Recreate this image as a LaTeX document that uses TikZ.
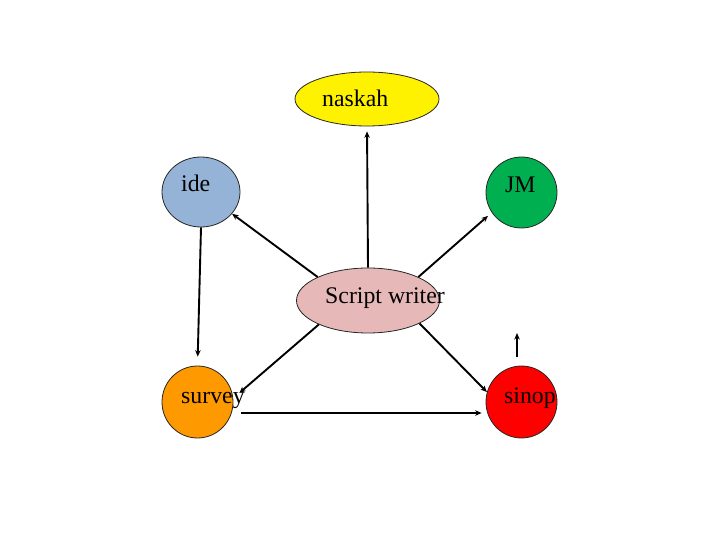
\documentclass[tikz,border=0pt]{standalone}
\usepackage{fontspec}
\setmainfont{Liberation Serif}
\usetikzlibrary{positioning, shapes, arrows.meta}
\definecolor{bleuide}{RGB}{149,179,215}
\definecolor{vertjm}{RGB}{0,176,80}
\definecolor{roseecrit}{RGB}{230,185,184}
\definecolor{orangesurvey}{RGB}{255,153,0}
\tikzstyle{forme}=[ellipse, draw=black!85, line width=0.8pt, inner sep=0pt]
\tikzstyle{texte}=[font=\fontsize{23.8}{28}\selectfont, inner sep=0pt, anchor=base west]
\tikzstyle{fleche}=[line width=1.9pt, -{Stealth[length=6.5pt,width=5.5pt]}]

\begin{document}
\begin{tikzpicture}[x=1pt, y=-1pt]
        \useasboundingbox (0,0) rectangle (720,540);

        % Les formes
        \node[forme, fill=yellow, minimum width=144pt, minimum height=54pt] (naskah) at (367,99) {};
        \node[forme, fill=bleuide, minimum width=78pt, minimum height=70pt] (ide) at (201,192) {};
        \node[forme, fill=vertjm, minimum width=71pt, minimum height=71pt] (jm) at (521.5,192.5) {};
        \node[forme, fill=roseecrit, minimum width=143pt, minimum height=65pt] (writer) at (368,300.5) {};
        \node[forme, fill=orangesurvey, minimum width=71pt, minimum height=72pt] (survey) at (197.5,402) {};
        \node[forme, fill=red, minimum width=71pt, minimum height=72pt] (sinop) at (521.5,402) {};

        % Les textes
        \node[texte] (t-naskah) at (322,107) {naskah};
        \node[texte] (t-ide) at (181,192) {ide};
        \node[texte] (t-jm) at (505,193) {JM};
        \node[texte] (t-writer) at (325,303) {Script writer};
        \node[texte] (t-survey) at (181,403) {survey};
        \node[texte] (t-sinop) at (504,403) {sinop};

        % Les flèches
        \draw[fleche, shorten >=5pt] (writer.north) -- (naskah.south);
        \draw[fleche] (writer.155) -- (ide.-35);
        \draw[fleche, shorten >=5pt] (writer.25) -- (jm.214);
        \draw[fleche, shorten >=8pt] (writer.206) -- (survey.6);
        \draw[fleche] (writer.336) -- (sinop.164);
        \draw[fleche, shorten >=9pt] (ide.south) -- (survey.north);
        \draw[fleche, shorten <=8pt, shorten >=4pt] ([yshift=-11pt]survey.east) -- ([yshift=-11pt]sinop.west);
        \coordinate (stub-a) at (517,357);
        \coordinate (stub-b) at (517,333);
        \draw[fleche] (stub-a) -- (stub-b);
    \end{tikzpicture}
\end{document}
